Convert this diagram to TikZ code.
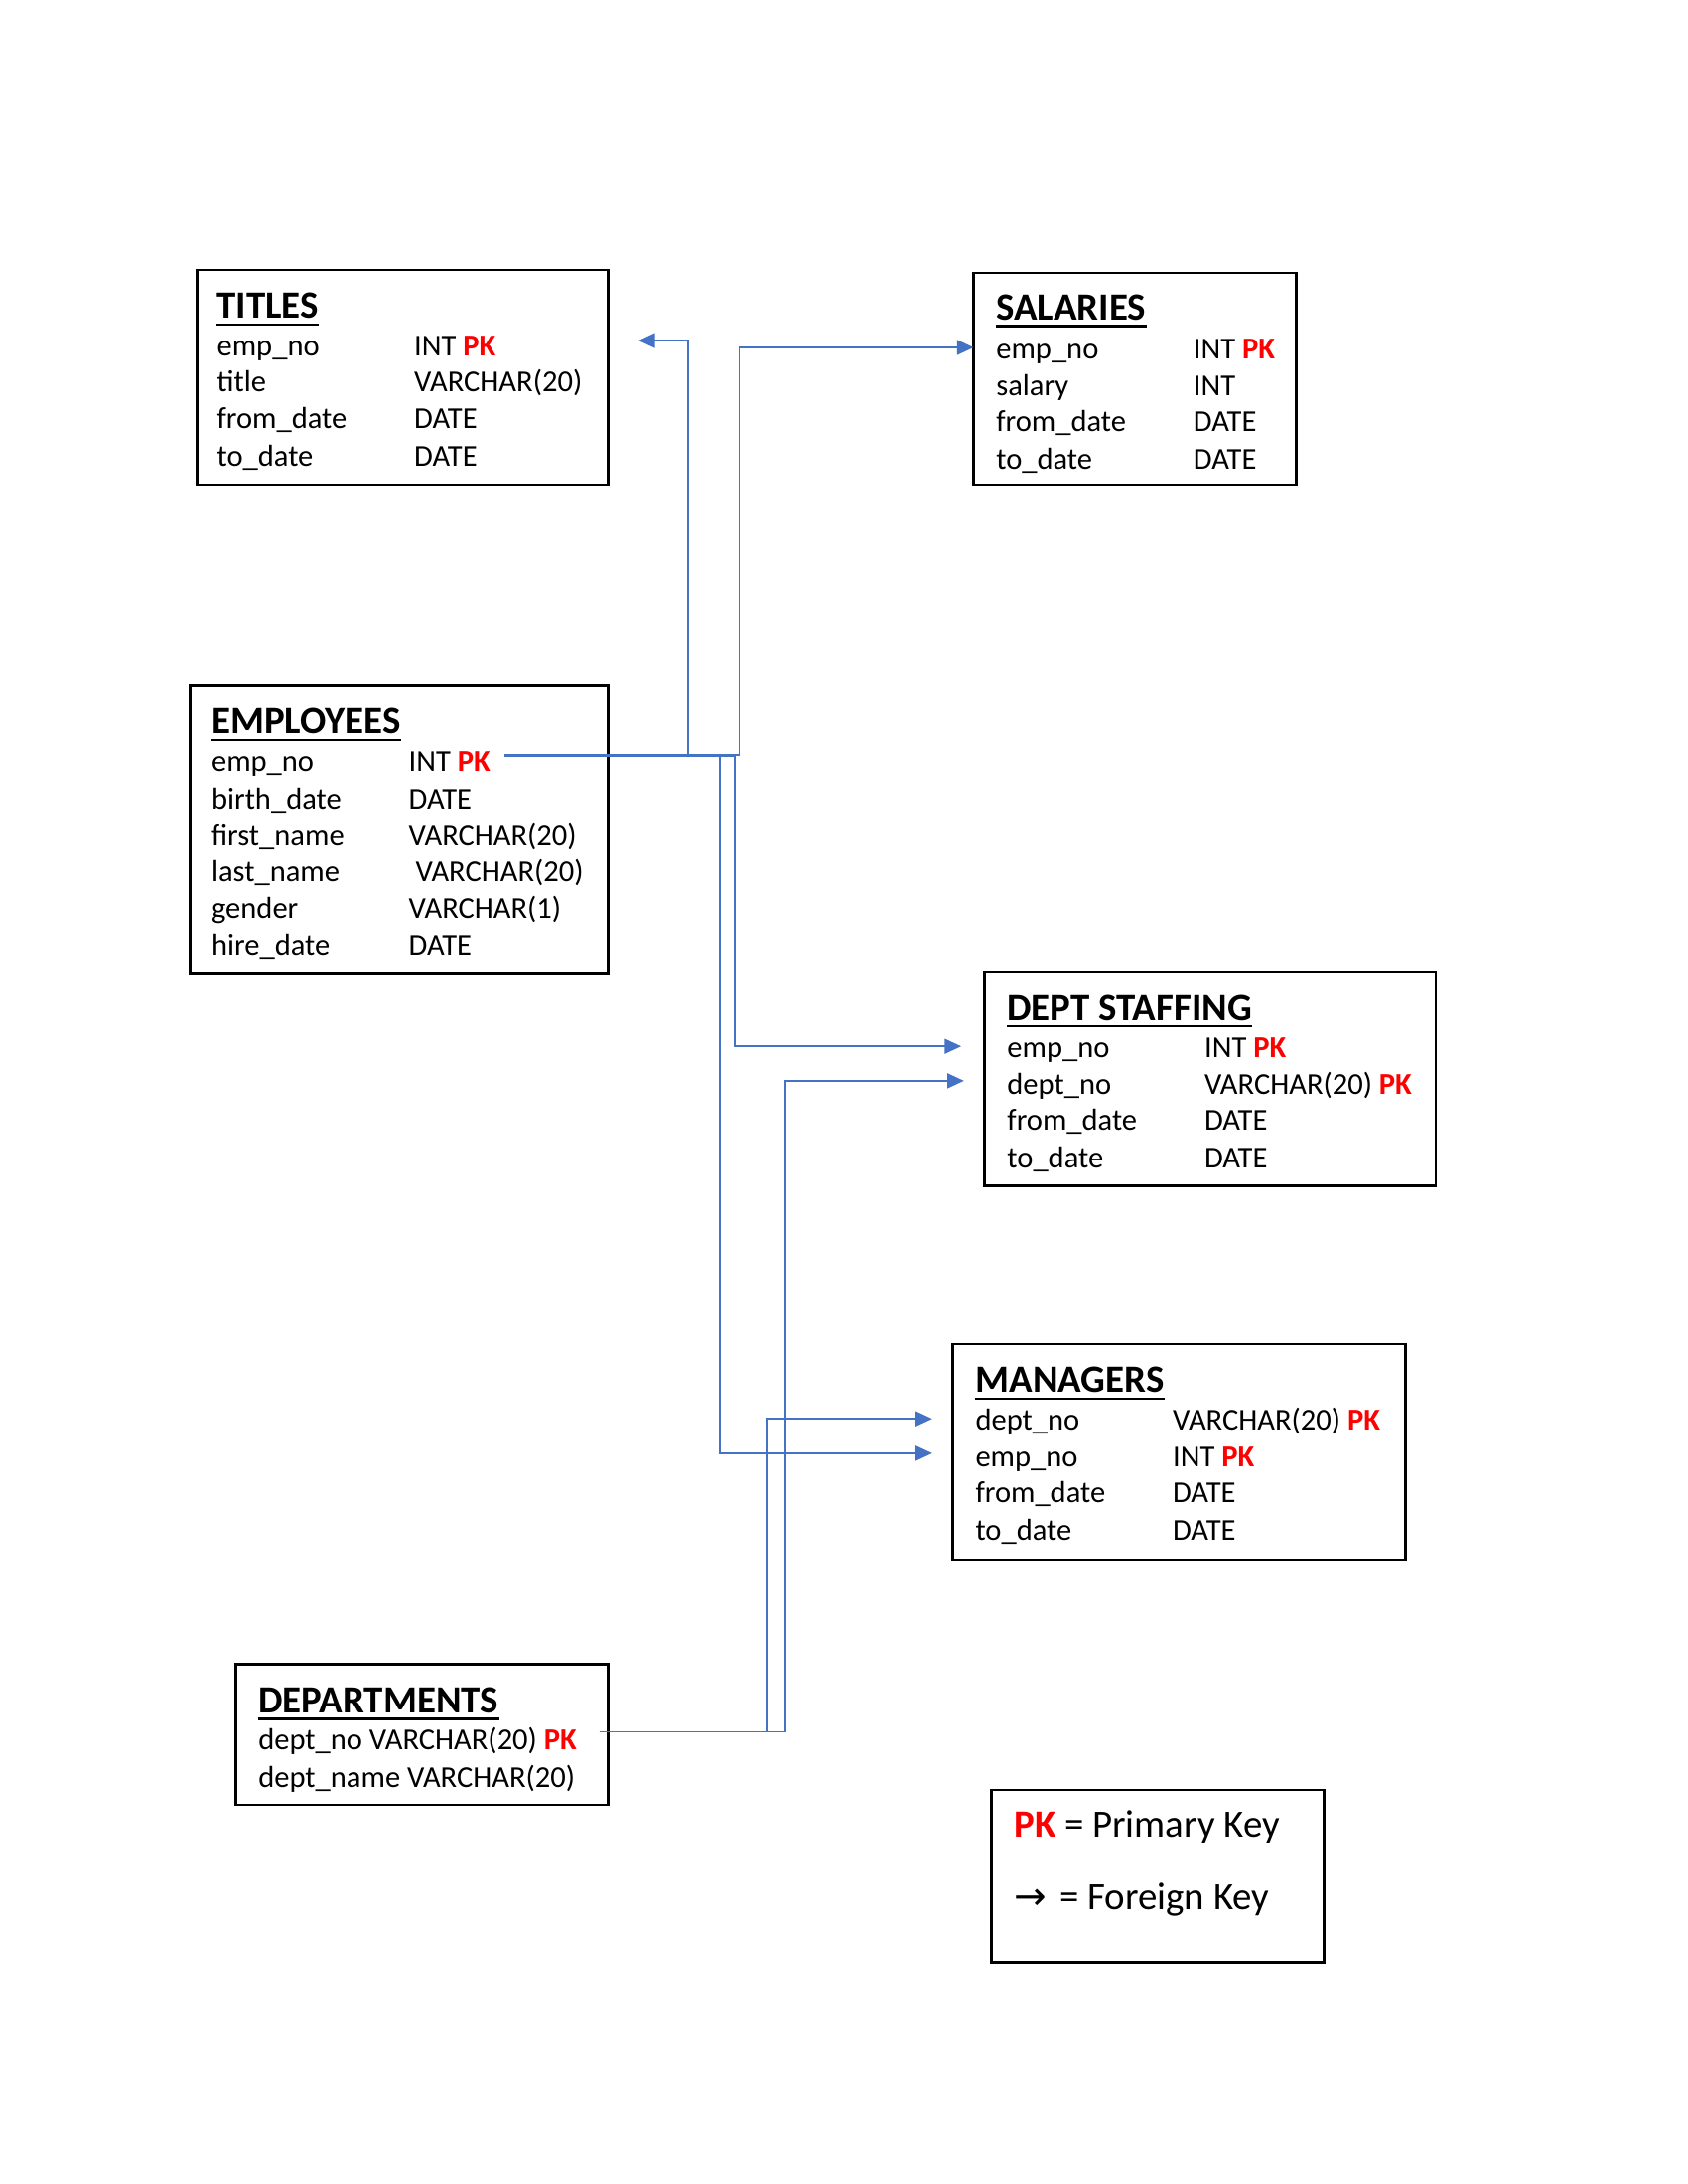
\documentclass[tikz,border=0pt]{standalone}
\usepackage{fontspec}
\setmainfont{Carlito}
\newfontfamily\arrowfont{DejaVu Sans}
\usetikzlibrary{arrows.meta}
\definecolor{fkblue}{HTML}{4472C4}
\definecolor{pkred}{HTML}{FF0000}
\newcommand{\pk}{\textcolor{pkred}{\textbf{PK}}}
\newcommand{\ttlline}[1]{\draw[line width=1pt] ([yshift=-2.2pt]#1.base west) -- ([yshift=-2.2pt]#1.base east);}
\tikzset{
	tbl/.style={draw=black, line width=0.9pt},
	fld/.style={anchor=base west, inner sep=0pt, font=\fontsize{11}{13}\selectfont},
	ttl/.style={anchor=base west, inner sep=0pt, font=\fontsize{14}{16}\selectfont\bfseries},
	lgd/.style={anchor=base west, inner sep=0pt, font=\fontsize{14}{16}\selectfont},
	fk/.style={draw=fkblue, line width=0.6pt, -{Triangle[length=6pt,width=5.4pt]}},
}

\begin{document}
\begin{tikzpicture}[x=0.5pt, y=-0.5pt]
				\useasboundingbox (0,0) rectangle (1224,1584);
				
				% titles
				\draw[tbl] (143,196) rectangle (441,352);
				\node[ttl] (ti-title) at (157,231) {TITLES};
				\ttlline{ti-title}
				\node[fld] (ti-empno) at (157,258) {emp\_no};
				\node[fld] (ti-empno-t) at (300,258) {INT \pk};
				\node[fld] (ti-title2) at (157,284) {title};
				\node[fld] (ti-title2-t) at (300,284) {VARCHAR(20)};
				\node[fld] (ti-from) at (157,311) {from\_date};
				\node[fld] (ti-from-t) at (300,311) {DATE};
				\node[fld] (ti-to) at (157,338) {to\_date};
				\node[fld] (ti-to-t) at (300,338) {DATE};
				
				% salaries
				\draw[tbl] (706,198) rectangle (940,352);
				\node[ttl] (sa-title) at (722,232) {SALARIES};
				\ttlline{sa-title}
				\node[fld] (sa-empno) at (722,260) {emp\_no};
				\node[fld] (sa-empno-t) at (865,260) {INT \pk};
				\node[fld] (sa-salary) at (722,287) {salary};
				\node[fld] (sa-salary-t) at (865,287) {INT};
				\node[fld] (sa-from) at (722,313) {from\_date};
				\node[fld] (sa-from-t) at (865,313) {DATE};
				\node[fld] (sa-to) at (722,340) {to\_date};
				\node[fld] (sa-to-t) at (865,340) {DATE};
				
				% employees
				\draw[tbl] (138,497) rectangle (441,706);
				\node[ttl] (em-title) at (153,532) {EMPLOYEES};
				\ttlline{em-title}
				\node[fld] (em-empno) at (153,560) {emp\_no};
				\node[fld] (em-empno-t) at (296,560) {INT \pk};
				\node[fld] (em-birth) at (153,587) {birth\_date};
				\node[fld] (em-birth-t) at (296,587) {DATE};
				\node[fld] (em-first) at (153,613) {first\_name};
				\node[fld] (em-first-t) at (296,613) {VARCHAR(20)};
				\node[fld] (em-last) at (153,639) {last\_name};
				\node[fld] (em-last-t) at (301,639) {VARCHAR(20)};
				\node[fld] (em-gender) at (153,666) {gender};
				\node[fld] (em-gender-t) at (296,666) {VARCHAR(1)};
				\node[fld] (em-hire) at (153,693) {hire\_date};
				\node[fld] (em-hire-t) at (296,693) {DATE};
				
				% dept staffing
				\draw[tbl] (714,705) rectangle (1041,860);
				\node[ttl] (ds-title) at (730,740) {DEPT STAFFING};
				\ttlline{ds-title}
				\node[fld] (ds-empno) at (730,767) {emp\_no};
				\node[fld] (ds-empno-t) at (873,767) {INT \pk};
				\node[fld] (ds-deptno) at (730,794) {dept\_no};
				\node[fld] (ds-deptno-t) at (873,794) {VARCHAR(20) \pk};
				\node[fld] (ds-from) at (730,820) {from\_date};
				\node[fld] (ds-from-t) at (873,820) {DATE};
				\node[fld] (ds-to) at (730,847) {to\_date};
				\node[fld] (ds-to-t) at (873,847) {DATE};
				
				% managers
				\draw[tbl] (691,975) rectangle (1019,1131);
				\node[ttl] (mg-title) at (707,1010) {MANAGERS};
				\ttlline{mg-title}
				\node[fld] (mg-deptno) at (707,1037) {dept\_no};
				\node[fld] (mg-deptno-t) at (850,1037) {VARCHAR(20) \pk};
				\node[fld] (mg-empno) at (707,1064) {emp\_no};
				\node[fld] (mg-empno-t) at (850,1064) {INT \pk};
				\node[fld] (mg-from) at (707,1090) {from\_date};
				\node[fld] (mg-from-t) at (850,1090) {DATE};
				\node[fld] (mg-to) at (707,1117) {to\_date};
				\node[fld] (mg-to-t) at (850,1117) {DATE};
				
				% departments
				\draw[tbl] (171,1207) rectangle (441,1309);
				\node[ttl] (de-title) at (187,1242) {DEPARTMENTS};
				\ttlline{de-title}
				\node[fld] (de-deptno) at (187,1269) {dept\_no VARCHAR(20) \pk};
				\node[fld] (de-name) at (187,1296) {dept\_name VARCHAR(20)};
				
				% legend
				\draw[tbl] (719,1298) rectangle (960,1423);
				\node[lgd] (lg-pk) at (735,1332) {\pk{} = Primary Key};
				\node[lgd] (lg-arrow) at (735,1385) {\arrowfont →};
				\node[lgd] (lg-fk) at (768,1385) {= Foreign Key};
				
				% foreign keys
				\coordinate (em-out) at ([xshift=5pt,yshift=6pt]em-empno-t.base east);
				\coordinate (de-out) at ([xshift=8pt,yshift=6.5pt]de-deptno.base east);
				\coordinate (ti-in) at (463,247);
				\coordinate (sa-in) at (706,252);
				\coordinate (ds-in1) at (697,759);
				\coordinate (ds-in2) at (699,784);
				\coordinate (mg-in1) at (676,1029);
				\coordinate (mg-in2) at (676,1054);
				\draw[fk] (em-out) -- ++(133,0) |- (ti-in);
				\draw[fk] (em-out) -- ++(170,0) |- (sa-in);
				\draw[fk] ([yshift=-0.5pt]em-out) -- ++(167,0) |- (ds-in1);
				\draw[fk] ([yshift=-0.5pt]em-out) -- ++(156,0) |- (mg-in2);
				\draw[fk] (de-out) -- ++(135,0) |- (ds-in2);
				\draw[fk] (de-out) -- ++(121,0) |- (mg-in1);
\end{tikzpicture}
\end{document}
